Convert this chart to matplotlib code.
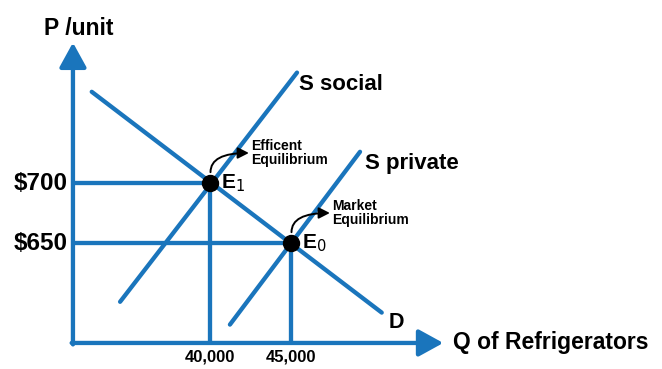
import matplotlib
matplotlib.use("Agg")
import matplotlib.pyplot as plt

# ---- data (Q = quantity of refrigerators, P = price per unit) ----
demand_q = [32700, 50600]
demand_p = [776, 592]
social_q = [34450, 45370]
social_p = [601, 792]
private_q = [41230, 49260]
private_p = [582, 726]
eq_q = [40000, 45000]
eq_p = [700, 650]
eq_labels = ["E$_1$", "E$_0$"]
eq_notes = ["Efficent\nEquilibrium", "Market\nEquilibrium"]
price_ticks = [700, 650]
price_labels = ["$700", "$650"]
qty_ticks = [40000, 45000]
qty_labels = ["40,000", "45,000"]
origin_q, origin_p = 31540, 566.7
axis_end_q, axis_end_p = 54400, 817

BLUE = "#1a75bc"
FONT = "Liberation Sans"

fig = plt.figure(figsize=(6.62, 3.69), dpi=100)
ax = fig.add_axes([0, 0, 1, 1])
ax.set_xlim(27037, 67901)
ax.set_ylim(545.0, 852.5)
ax.axis("off")

lw = 3.1
akw = dict(arrowstyle="-|>,head_length=1.0,head_width=0.55", lw=lw,
           color=BLUE, shrinkA=0, shrinkB=0, mutation_scale=15)
ax.annotate("", xy=(origin_q, axis_end_p), xytext=(origin_q, origin_p - 1.2), arrowprops=akw)
ax.annotate("", xy=(axis_end_q, origin_p), xytext=(origin_q - 80, origin_p), arrowprops=akw)

# guide lines
for q, p in zip(eq_q, eq_p):
    ax.plot([origin_q, q], [p, p], color=BLUE, lw=lw, solid_capstyle="butt")
    ax.plot([q, q], [origin_p, p], color=BLUE, lw=lw, solid_capstyle="butt")

# curves
for qs, ps in [(demand_q, demand_p), (social_q, social_p), (private_q, private_p)]:
    ax.plot(qs, ps, color=BLUE, lw=lw, solid_capstyle="round")

# equilibrium points
ax.plot(eq_q, eq_p, "o", color="black", ms=11.5, zorder=5)

tkw = dict(family=FONT, fontweight="bold", color="black")
for q, p, lab, note in zip(eq_q, eq_p, eq_labels, eq_notes):
    ax.text(q + 700, p, lab, fontsize=15, ha="left", va="center", **tkw)
    ax.annotate("", xy=(q + 2400, p + 25), xytext=(q + 30, p + 9),
                arrowprops=dict(arrowstyle="-|>,head_length=0.55,head_width=0.28", lw=1.4,
                                color="black", shrinkA=0, shrinkB=0,
                                connectionstyle="angle3,angleA=90,angleB=0", mutation_scale=12))
    ax.text(q + 2550, p + 25, note, fontsize=10, ha="left", va="center",
            linespacing=1.05, **tkw)

# tick labels
for p, lab in zip(price_ticks, price_labels):
    ax.text(origin_q - 330, p, lab, fontsize=17.5, ha="right", va="center", **tkw)
for q, lab in zip(qty_ticks, qty_labels):
    ax.text(q, origin_p - 12, lab, fontsize=12, ha="center", va="center", **tkw)

# curve labels
ax.text(social_q[1] + 150, social_p[1] - 10, "S social", fontsize=16, ha="left", va="center", **tkw)
ax.text(private_q[1] + 300, private_p[1] - 10, "S private", fontsize=16, ha="left", va="center", **tkw)
ax.text(demand_q[1] + 400, demand_p[1] - 8, "D", fontsize=15.5, ha="left", va="center", **tkw)

# axis titles
ax.text(axis_end_q + 600, origin_p, "Q of Refrigerators", fontsize=16.5, ha="left", va="center", **tkw)
ax.text(origin_q + 350, axis_end_p + 12, "P /unit", fontsize=16.5, ha="center", va="center", **tkw)

fig.savefig("out.png", dpi=100)
